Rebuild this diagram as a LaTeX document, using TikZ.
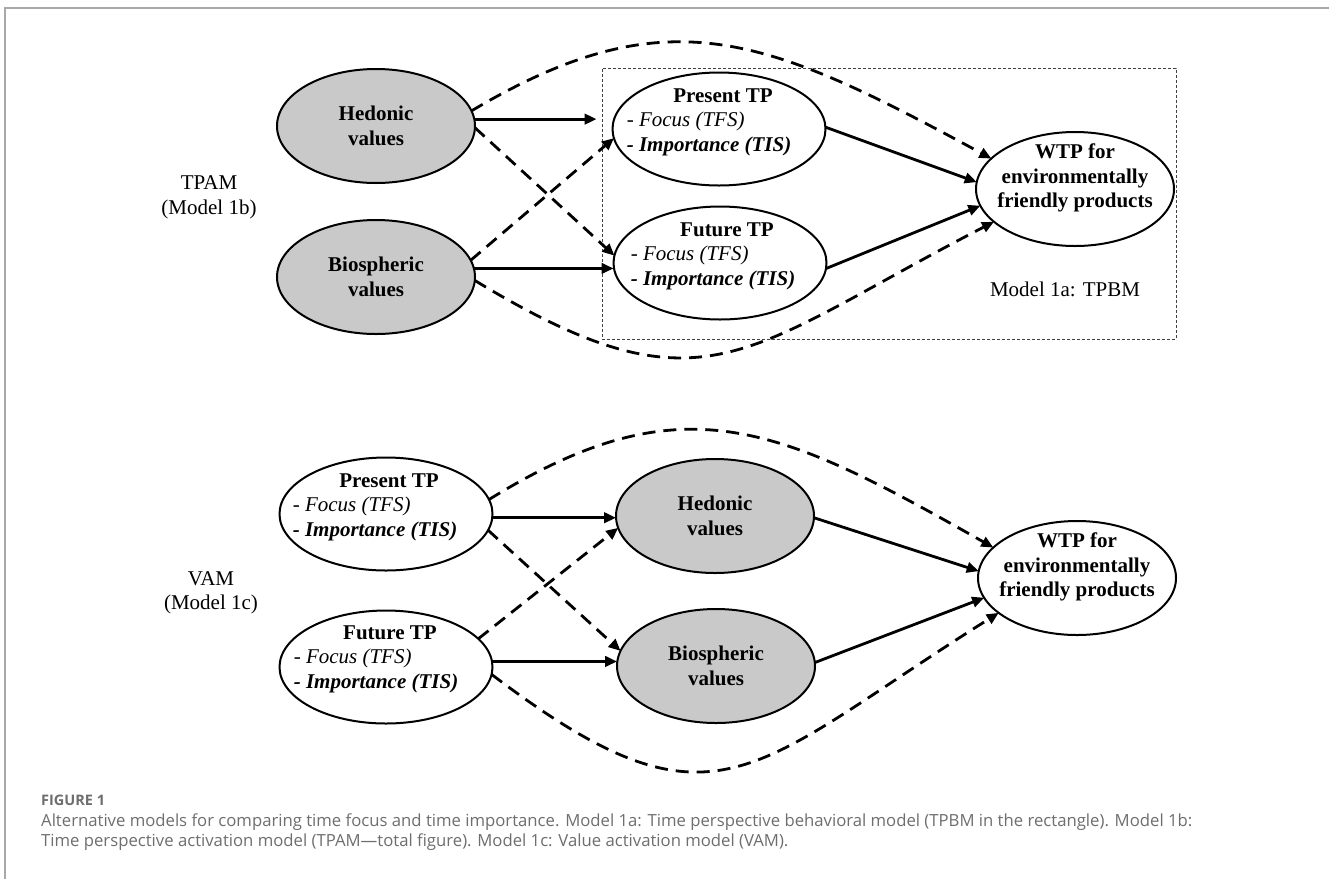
\documentclass[tikz,border=0pt]{standalone}
\usepackage{fontspec}
\setmainfont{Liberation Serif}
\newfontfamily\capfont{Open Sans}
\usetikzlibrary{arrows.meta,shapes.geometric,calc}
\definecolor{valgray}{HTML}{C9C9C9}
\definecolor{capgray}{HTML}{6E6E6E}
\definecolor{framegray}{HTML}{A8A8A8}
\newcommand{\tpblock}[1]{\begin{tabular}{@{}l@{}}\multicolumn{1}{@{}c@{}}{\hspace{28pt}\textbf{#1}}\\ - \textit{Focus (TFS)}\\ \textbf{\textit{- Importance (TIS)}}\end{tabular}}
\begin{document}
\begin{tikzpicture}[x=1pt,y=-1pt,
  every node/.style={font=\fontsize{21}{24.5}\selectfont},
  ellbase/.style={ellipse, draw, line width=2pt, inner sep=0pt, outer sep=0pt},
  valnode/.style={ellbase, fill=valgray, minimum width=198pt, minimum height=114pt,
     font=\bfseries\fontsize{21}{24.5}\selectfont, align=center},
  tpnode/.style={ellbase, fill=white, minimum width=213pt, minimum height=113pt},
  wtpnode/.style={ellbase, fill=white, minimum width=198pt, minimum height=114pt},
  tptext/.style={inner sep=0pt},
  wtptext/.style={inner sep=0pt, align=center, font=\bfseries\fontsize{21}{24.5}\selectfont},
  solidarrow/.style={line width=2.8pt, -{Triangle[length=12pt,width=10.5pt]}},
  dasharrow/.style={solidarrow, dash pattern=on 13pt off 8pt},
  modellabel/.style={align=center, inner sep=0pt},
  boxrect/.style={draw=black!75, line width=1pt, dash pattern=on 3pt off 2pt, inner sep=0pt,
     minimum width=574pt, minimum height=271pt},
  capfig/.style={inner sep=0pt, text=capgray, font=\capfont\bfseries\fontsize{14.5}{17}\selectfont},
  captext/.style={inner sep=0pt, text=capgray, font=\capfont\fontsize{16.7}{20}\selectfont},
]
\useasboundingbox (0,0) rectangle (1329,879);
\fill[white] (0,0) rectangle (1329,879);
% frame
\draw[framegray, line width=1.5pt] (5,879) -- (5,8) -- (1329,8);

% ---------- top model ----------
\node[boxrect] (box) at (889,203.5) {};
\node[valnode] (hedT) at (376,126) {Hedonic\\values};
\node[valnode] (bioT) at (376,277) {Biospheric\\values};
\node[tpnode] (presT) at (719,129) {};
\node[tpnode] (futT) at (720,263) {};
\node[wtpnode] (wtpT) at (1075,189) {};
\node[tptext] (presTt) at (709,122) {\tpblock{Present TP}};
\node[tptext] (futTt) at (713,256) {\tpblock{Future TP}};
\node[wtptext] (wtpTt) at (1075,178) {WTP for\\environmentally\\friendly products};
\node[modellabel] (tpam) at (209,197.5) {TPAM\\(Model 1b)};
\node[inner sep=0pt] (tpbm) at (1065,289) {Model 1a: TPBM};

\draw[solidarrow, shorten >=5pt] (hedT.4) -- (hedT.4 -| box.west);
\draw[solidarrow] (bioT.5) -- (bioT.5 -| futT.west);
\draw[dasharrow] (hedT.-1) -- (futT.176);
\draw[dasharrow] (bioT.10) -- (presT.185);
\draw[solidarrow] (presT.1) -- (wtpT.176);
\draw[solidarrow] (futT.-3) -- (wtpT.190);
\draw[dasharrow] (hedT.9) .. controls (668,-6) and (767,37) .. (wtpT.160);
\draw[dasharrow] (bioT.-2) .. controls (705,420) and (742,352) .. (wtpT.202);

% ---------- bottom model ----------
\node[tpnode] (presB) at (386,514) {};
\node[tpnode] (futB) at (386,667) {};
\node[valnode] (hedB) at (715,516) {Hedonic\\values};
\node[valnode] (bioB) at (716,666) {Biospheric\\values};
\node[wtpnode] (wtpB) at (1077,578) {};
\node[tptext] (presBt) at (375,507) {\tpblock{Present TP}};
\node[tptext] (futBt) at (376,659) {\tpblock{Future TP}};
\node[wtptext] (wtpBt) at (1077,567) {WTP for\\environmentally\\friendly products};
\node[modellabel] (vam) at (211,593) {VAM\\(Model 1c)};

\draw[solidarrow] (presB.-2) -- (presB.-2 -| hedB.west);
\draw[solidarrow] (futB.3) -- (futB.3 -| bioB.west);
\draw[dasharrow] (presB.-9) -- (bioB.171);
\draw[dasharrow] (futB.17) -- (hedB.187);
\draw[solidarrow] (hedB.-1) -- (wtpB.176);
\draw[solidarrow] (bioB.2) -- (wtpB.192);
\draw[dasharrow] (presB.8) .. controls (681,381) and (776,424) .. (wtpB.160);
\draw[dasharrow] (futB.-4) .. controls (717,845) and (748,770) .. (wtpB.204);

% ---------- caption ----------
\node[capfig, anchor=base west] (figlabel) at (41,805) {FIGURE 1};
\node[captext, anchor=base west] (capline1) at (41,826) {Alternative models for comparing time focus and time importance. Model 1a: Time perspective behavioral model (TPBM in the rectangle). Model 1b:};
\node[captext, anchor=base west] (capline2) at (41,846) {Time perspective activation model (TPAM—total figure). Model 1c: Value activation model (VAM).};
\end{tikzpicture}
\end{document}
